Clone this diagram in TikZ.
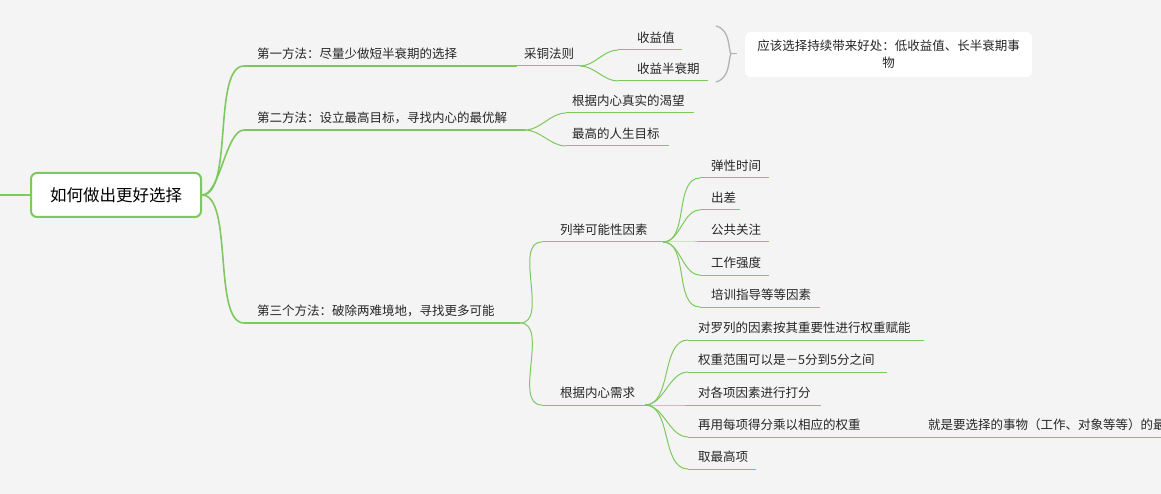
\documentclass[tikz,border=0pt]{standalone}
\usepackage{fontspec}
\setmainfont{Noto Sans CJK SC}
\begin{document}
\begin{tikzpicture}[x=1pt,y=-1pt,
  lbl/.style={anchor=west,inner sep=0pt,font=\fontsize{12.5}{15}\selectfont,text=black!85},
  gl/.style={draw=green!60!black!50!lime!80!black,color={rgb,255:red,125;green,201;blue,94},line width=1pt},
  gm/.style={gl,line width=1.6pt},
  cv/.style={out=0,in=180,looseness=0.9}]
\definecolor{bg}{RGB}{244,244,244}
\fill[bg] (0,0) rectangle (1161,494);
\useasboundingbox (0,0) rectangle (1161,494);
% root
\node[draw={rgb,255:red,125;green,201;blue,94},line width=2pt,fill=white,rounded corners=6pt,minimum width=170pt,minimum height=44pt,font=\fontsize{16.5}{18}\selectfont] (root) at (116,195) {如何做出更好选择};
\coordinate (in) at (0,195);
\draw[gm] (in) -- (root.west);
% leaf macro
\newcommand{\lf}[7][gl]{%
  \coordinate (#2s) at (#3,#5); \coordinate (#2e) at (#4,#5);
  \draw[#1] (#2s) -- (#2e);
  \node[lbl] (#2) at (#6,#5-12.5) {#7};}
% level 1
\lf[gm]{a}{244}{517}{66}{257}{第一方法：尽量少做短半衰期的选择}
\lf[gm]{b}{244}{525}{130}{257}{第二方法：设立最高目标，寻找内心的最优解}
\lf[gm]{c}{244}{520}{323}{257}{第三个方法：破除两难境地，寻找更多可能}
\draw[gm] (root.east) to[out=0,in=180,looseness=0.6] (as);
\draw[gm] (root.east) to[out=0,in=180,looseness=0.6] (bs);
\draw[gm] (root.east) to[out=0,in=180,looseness=0.6] (cs);
% first
\lf{a1}{517}{580}{66}{524}{采铜法则}
\draw[gl] (ae) -- (a1s);
\lf{a11}{618}{682}{50}{637}{收益值}
\lf{a12}{618}{708}{81}{637}{收益半衰期}
\draw[gl] (a1e) to[cv] (a11s);
\draw[gl] (a1e) to[cv] (a12s);
\coordinate (br1) at (716,26); \coordinate (br2) at (716,82);
\draw[gray!60,line width=1.3pt] (br1) .. controls (731,30) and (728,50) .. (731,54) .. controls (728,58) and (731,78) .. (br2);
\draw[gray!60,line width=1pt] (731,54) -- (737,54);
\node[fill=white,rounded corners=6pt,minimum width=287pt,minimum height=45pt,align=center,font=\fontsize{12.5}{17}\selectfont,text=black!85] (note) at (888.5,54.5) {应该选择持续带来好处：低收益值、长半衰期事\\物};
% second
\lf{b1}{566}{694}{113}{572}{根据内心真实的渴望}
\lf{b2}{566}{669}{146}{572}{最高的人生目标}
\draw[gl] (be) to[cv] (b1s);
\draw[gl] (be) to[cv] (b2s);
% third
\lf{c1}{542}{663}{242}{560}{列举可能性因素}
\lf{c2}{542}{645}{405}{560}{根据内心需求}
\draw[gl] (ce) to[cv] (c1s);
\draw[gl] (ce) to[cv] (c2s);
\lf{d1}{700}{769}{178}{711}{弹性时间}
\lf{d2}{700}{740}{210}{711}{出差}
\lf{d3}{700}{769}{242}{711}{公共关注}
\lf{d4}{700}{769}{275}{711}{工作强度}
\lf{d5}{700}{820}{307}{711}{培训指导等等因素}
\foreach \i in {1,...,5} \draw[gl] (c1e) to[cv] (d\i s);
\lf{e1}{688}{924}{340}{698}{对罗列的因素按其重要性进行权重赋能}
\lf{e2}{688}{887}{372}{698}{权重范围可以是－5分到5分之间}
\lf{e3}{688}{821}{405}{698}{对各项因素进行打分}
\lf{e4}{688}{1161}{437}{698}{再用每项得分乘以相应的权重}
\lf{e5}{688}{756}{469}{698}{取最高项}
\foreach \i in {1,...,5} \draw[gl] (c2e) to[cv] (e\i s);
\node[lbl] (e41) at (928,424.5) {就是要选择的事物（工作、对象等等）的最高项};
\end{tikzpicture}
\end{document}
